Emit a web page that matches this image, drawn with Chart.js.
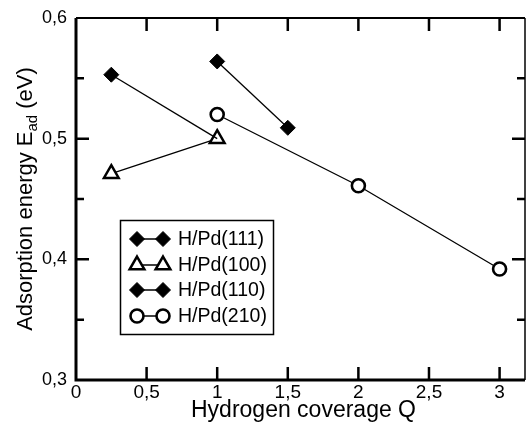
<!DOCTYPE html>
<html>
<head>
<meta charset="utf-8">
<script src="https://cdn.jsdelivr.net/npm/chart.js@4/dist/chart.umd.min.js"></script>
<style>
  html, body { margin: 0; padding: 0; background: #fff; overflow: hidden; }
  canvas { display: block; }
</style>
</head>
<body>
<canvas id="chart" width="526" height="424"></canvas>
<script>
/*-------------------------------------------------------------------------*/
// Data: adsorption energy (eV) against hydrogen coverage
/*-------------------------------------------------------------------------*/
var coverage111 = [0.25, 1];
var energy111   = [0.553, 0.5];
var coverage100 = [0.25, 1];
var energy100   = [0.471, 0.5];
var coverage110 = [1, 1.5];
var energy110   = [0.564, 0.509];
var coverage210 = [1, 2, 3];
var energy210   = [0.52, 0.461, 0.392];

var seriesLabels = ['H/Pd(111)', 'H/Pd(100)', 'H/Pd(110)', 'H/Pd(210)'];
var xTicks = [0, 0.5, 1, 1.5, 2, 2.5, 3];
var yTicks = [0.3, 0.4, 0.5, 0.6];

var FONT = "'Liberation Sans', Arial, Helvetica, sans-serif";

function points(xs, ys) {
	return xs.map(function (x, i) { return { x: x, y: ys[i] }; });
}
function commaNum(v) {
	return String(Math.round(v * 10) / 10).replace('.', ',');
}

/*-------------------------------------------------------------------------*/
// Box frame with inward ticks
/*-------------------------------------------------------------------------*/
var boxPlugin = {
	id: 'axisBox',
	afterDatasetsDraw: function (chart) {
		var ctx = chart.ctx, a = chart.chartArea;
		var xs = chart.scales.x, ys = chart.scales.y;
		ctx.save();
		ctx.strokeStyle = '#000';

		ctx.lineWidth = 3;
		ctx.beginPath();
		ctx.moveTo(a.left, a.top);
		ctx.lineTo(a.left, a.bottom);
		ctx.lineTo(a.right, a.bottom);
		ctx.stroke();

		ctx.lineWidth = 2;
		ctx.beginPath();
		ctx.moveTo(a.left, a.top);
		ctx.lineTo(a.right, a.top);
		ctx.stroke();

		ctx.lineWidth = 1.5;
		ctx.beginPath();
		ctx.moveTo(a.right, a.top);
		ctx.lineTo(a.right, a.bottom);
		ctx.stroke();

		ctx.lineWidth = 2.5;
		xTicks.forEach(function (v) {
			if (v === 0) return;
			var px = xs.getPixelForValue(v);
			ctx.beginPath();
			ctx.moveTo(px, a.bottom);
			ctx.lineTo(px, a.bottom - 13);
			ctx.moveTo(px, a.top);
			ctx.lineTo(px, a.top + 13);
			ctx.stroke();
		});
		// majors every 0.1, minors halfway
		for (var k = 1; k < 6; k++) {
			var py = ys.getPixelForValue(0.3 + k * 0.05);
			var len = (k % 2 === 0) ? 13 : 8;
			ctx.beginPath();
			ctx.moveTo(a.left, py);
			ctx.lineTo(a.left + len, py);
			ctx.moveTo(a.right, py);
			ctx.lineTo(a.right - len, py);
			ctx.stroke();
		}
		ctx.restore();
	}
};

/*-------------------------------------------------------------------------*/
// Axis titles and boxed legend
/*-------------------------------------------------------------------------*/
var labelPlugin = {
	id: 'axisLabels',
	afterDraw: function (chart) {
		var ctx = chart.ctx, a = chart.chartArea;
		ctx.save();
		ctx.fillStyle = '#000';
		ctx.font = '23px ' + FONT;
		ctx.textAlign = 'center';
		ctx.textBaseline = 'middle';
		ctx.fillText('Hydrogen coverage Q', (a.left + a.right) / 2 + 3, 411);

		// y title with subscript "ad"
		var main = 'Adsorption energy E', sub = 'ad', tail = ' (eV)';
		ctx.font = '22px ' + FONT;
		var w1 = ctx.measureText(main).width, w3 = ctx.measureText(tail).width;
		ctx.font = '15px ' + FONT;
		var w2 = ctx.measureText(sub).width;
		var x0 = -(w1 + w2 + w3) / 2;
		ctx.translate(24, (a.top + a.bottom) / 2);
		ctx.rotate(-Math.PI / 2);
		ctx.textAlign = 'left';
		ctx.textBaseline = 'alphabetic';
		ctx.font = '22px ' + FONT;
		ctx.fillText(main, x0, 8);
		ctx.font = '15px ' + FONT;
		ctx.fillText(sub, x0 + w1, 13);
		ctx.font = '22px ' + FONT;
		ctx.fillText(tail, x0 + w1 + w2, 8);
		ctx.restore();

		// legend
		ctx.save();
		ctx.strokeStyle = '#000';
		ctx.lineWidth = 1.5;
		ctx.strokeRect(120.5, 220.5, 153, 114);
		var rowY = [239, 265, 290, 316];
		chart.data.datasets.forEach(function (ds, i) {
			var y = rowY[i];
			ctx.strokeStyle = '#000';
			ctx.lineWidth = 1.5;
			ctx.beginPath();
			ctx.moveTo(137, y);
			ctx.lineTo(163, y);
			ctx.stroke();
			[137, 163].forEach(function (mx) {
				ctx.fillStyle = ds.pointBackgroundColor;
				ctx.strokeStyle = '#000';
				ctx.lineWidth = ds.pointBorderWidth;
				Chart.helpers.drawPoint(ctx, {
					pointStyle: ds.pointStyle,
					radius: ds.legendRadius,
					rotation: 0,
					borderWidth: ds.pointBorderWidth
				}, mx, y);
			});
			ctx.fillStyle = '#000';
			ctx.font = '19.5px ' + FONT;
			ctx.textAlign = 'left';
			ctx.textBaseline = 'middle';
			ctx.fillText(ds.label, 178, y + 1);
		});
		ctx.restore();
	}
};

/*-------------------------------------------------------------------------*/
// Chart
/*-------------------------------------------------------------------------*/
function lineSet(label, data, style, fill, radius, border, legendRadius) {
	return {
		label: label,
		data: data,
		showLine: true,
		borderColor: '#000',
		borderWidth: 1.3,
		pointStyle: style,
		pointRadius: radius,
		pointHoverRadius: radius,
		pointBackgroundColor: fill,
		pointBorderColor: '#000',
		pointBorderWidth: border,
		legendRadius: legendRadius
	};
}

var datasets = [
	lineSet(seriesLabels[0], points(coverage111, energy111), 'rectRot', '#000', [7.5, 0], 1, 7.5),
	lineSet(seriesLabels[1], points(coverage100, energy100), 'triangle', '#fff', 8.5, 2.5, 8.5),
	lineSet(seriesLabels[2], points(coverage110, energy110), 'rectRot', '#000', 7.5, 1, 7.5),
	lineSet(seriesLabels[3], points(coverage210, energy210), 'circle', '#fff', 6.5, 2.6, 6.5)
];

new Chart(document.getElementById('chart'), {
	type: 'scatter',
	data: { datasets: datasets },
	options: {
		responsive: false,
		animation: false,
		layout: { autoPadding: false, padding: { top: 18, right: 1, left: 0, bottom: 0 } },
		plugins: {
			legend: { display: false },
			tooltip: { enabled: false }
		},
		scales: {
			x: {
				type: 'linear',
				min: 0,
				max: 3.18,
				grid: { display: false, tickLength: 0 },
				border: { display: false },
				afterBuildTicks: function (scale) {
					scale.ticks = xTicks.map(function (v) { return { value: v }; });
				},
				afterFit: function (scale) { scale.height = 44; scale.paddingLeft = 0; scale.paddingRight = 0; },
				ticks: {
					padding: 1,
					color: '#000',
					font: { family: FONT, size: 19 },
					maxRotation: 0,
					callback: function (v) { return commaNum(v); }
				}
			},
			y: {
				type: 'linear',
				min: 0.3,
				max: 0.6,
				grid: { display: false, tickLength: 0 },
				border: { display: false },
				afterBuildTicks: function (scale) {
					scale.ticks = yTicks.map(function (v) { return { value: v }; });
				},
				afterFit: function (scale) { scale.width = 76; scale.paddingTop = 0; scale.paddingBottom = 0; },
				ticks: {
					padding: 9,
					color: '#000',
					font: { family: FONT, size: 18 },
					callback: function (v) { return commaNum(v); }
				}
			}
		}
	},
	plugins: [boxPlugin, labelPlugin]
});
</script>
</body>
</html>
